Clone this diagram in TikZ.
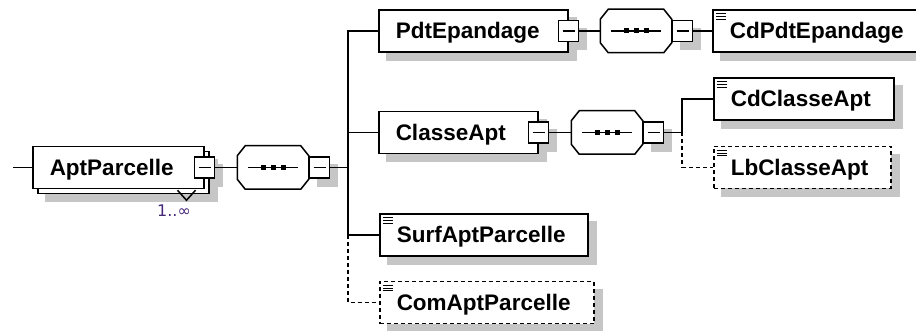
\documentclass[tikz,border=0pt]{standalone}
\usepackage{fontspec}
\newfontfamily\diagfont{Liberation Sans}
\newfontfamily\multfont{DejaVu Sans}
\usetikzlibrary{backgrounds}
\definecolor{shadowgray}{RGB}{198,198,198}
\definecolor{multcol}{RGB}{70,40,120}
\begin{document}
\begin{tikzpicture}[x=1pt,y=-1pt,line width=1.5pt,
    elem/.style={draw, fill=white, rectangle, anchor=west, minimum height=42pt, inner xsep=17pt, inner ysep=0pt,
      text height=16pt, text depth=0pt, align=left, font=\diagfont\bfseries\fontsize{22.5}{26}\selectfont},
    elemleaf/.style={elem, path picture={\foreach \k in {0,1,2}
      \draw[solid,line width=1pt] ([shift={(3pt,{-4pt-2.7pt*\k})}]path picture bounding box.north west) -- +(10pt,0);}},
    optline/.style={dash pattern=on 4pt off 3pt},
    minusbox/.style={draw, fill=white, rectangle, minimum width=20pt, minimum height=21pt, inner sep=0pt,
      path picture={\draw[solid,line width=1.3pt] ([xshift=4pt]path picture bounding box.west) -- ([xshift=-4pt]path picture bounding box.east);}},
    seqbox/.style={rectangle, minimum width=70pt, minimum height=42pt, inner sep=0pt},
    shadowfill/.style={fill=shadowgray, draw=none}]
  \useasboundingbox (0,0) rectangle (916,331);
  \coordinate (IN) at (13,167.5);
  \coordinate (TR) at (348,0);
  \coordinate (TR2) at (682,0);

  \node[elem, text width=137pt] (APB) at (37,172.5) {};
  \draw ([shift={(-32pt,4pt)}]APB.south east) -- ++(9,10) -- ++(9,-10);
  \node[elem, text width=137pt] (AP) at (32,167.5) {AptParcelle};
  \node[minusbox] (APM) at (AP.east) {};
  \node[text=multcol, font=\multfont\fontsize{16}{18}\selectfont] (MULT) at (174,210.5) {1..∞};
  \node[seqbox, anchor=west] (SQ1) at ([xshift=22pt]APM.east) {};
  \node[minusbox, anchor=west] (SQ1M) at (SQ1.east) {};

  \node[elem, text width=155pt] (PE) at (378,31) {PdtEpandage};
  \node[minusbox] (PEM) at (PE.east) {};
  \node[seqbox, anchor=west] (SQ2) at ([xshift=21pt]PEM.east) {};
  \node[minusbox, anchor=west] (SQ2M) at (SQ2.east) {};
  \node[elemleaf, text width=179pt] (CPE) at (712,31) {CdPdtEpandage};

  \node[elem, text width=125pt] (CA) at (378,132.5) {ClasseApt};
  \node[minusbox] (CAM) at (CA.east) {};
  \node[seqbox, anchor=west] (SQ3) at ([xshift=22pt]CAM.east) {};
  \node[minusbox, anchor=west] (SQ3M) at (SQ3.east) {};
  \node[elemleaf, text width=146pt] (CCA) at (713,99) {CdClasseApt};
  \node[elemleaf, optline, text width=143pt] (LCA) at (713,167.5) {LbClasseApt};

  \node[elemleaf, text width=174pt] (SAP) at (379,235) {SurfAptParcelle};
  \node[elemleaf, optline, text width=180pt] (CAP) at (379,302.5) {ComAptParcelle};

  \foreach \s in {SQ1,SQ2,SQ3} {
    \draw[fill=white] ([xshift=8pt]\s.north west) -- ([xshift=-8pt]\s.north east) -- ([yshift=-10pt]\s.north east)
      -- ([yshift=10pt]\s.south east) -- ([xshift=-8pt]\s.south east) -- ([xshift=8pt]\s.south west)
      -- ([yshift=10pt]\s.south west) -- ([yshift=-10pt]\s.north west) -- cycle;
    \draw[line width=1.3pt] ([xshift=-25pt]\s.center) -- ([xshift=25pt]\s.center);
    \foreach \d in {-10,0,10}
      \fill ([xshift=\d pt]\s.center) +(-2.5,-2.5) rectangle +(2.5,2.5);
  }

  \begin{scope}[on background layer]
    \foreach \n in {APB,APM,SQ1M,PE,PEM,SQ2M,CPE,CA,CAM,SQ3M,CCA,LCA,SAP,CAP}
      \fill[shadowfill] ([shift={(8pt,-8pt)}]\n.north west) rectangle ([shift={(8pt,-8pt)}]\n.south east);
    \foreach \s in {SQ1,SQ2,SQ3}
      \fill[shadowfill, shift={(8pt,-8pt)}] ([xshift=8pt]\s.north west) -- ([xshift=-8pt]\s.north east) -- ([yshift=-10pt]\s.north east)
        -- ([yshift=10pt]\s.south east) -- ([xshift=-8pt]\s.south east) -- ([xshift=8pt]\s.south west)
        -- ([yshift=10pt]\s.south west) -- ([yshift=-10pt]\s.north west) -- cycle;
  \end{scope}

  \draw (IN) -- (AP.west);
  \draw (APM.east) -- (SQ1.west);
  \draw (SQ1M.east) -- (SQ1M.east -| TR);
  \draw (PE.west) -| (SAP.west -| TR) -- (SAP.west);
  \draw (CA.west) -- (CA.west -| TR);
  \draw[optline] (SAP.west -| TR) |- (CAP.west);
  \draw (PEM.east) -- (SQ2.west);
  \draw (SQ2M.east) -- (CPE.west);
  \draw (CAM.east) -- (SQ3.west);
  \draw (SQ3M.east) -- (SQ3M.east -| TR2);
  \draw (CCA.west) -| (SQ3M.east -| TR2);
  \draw[optline] (SQ3M.east -| TR2) |- (LCA.west);
\end{tikzpicture}
\end{document}
